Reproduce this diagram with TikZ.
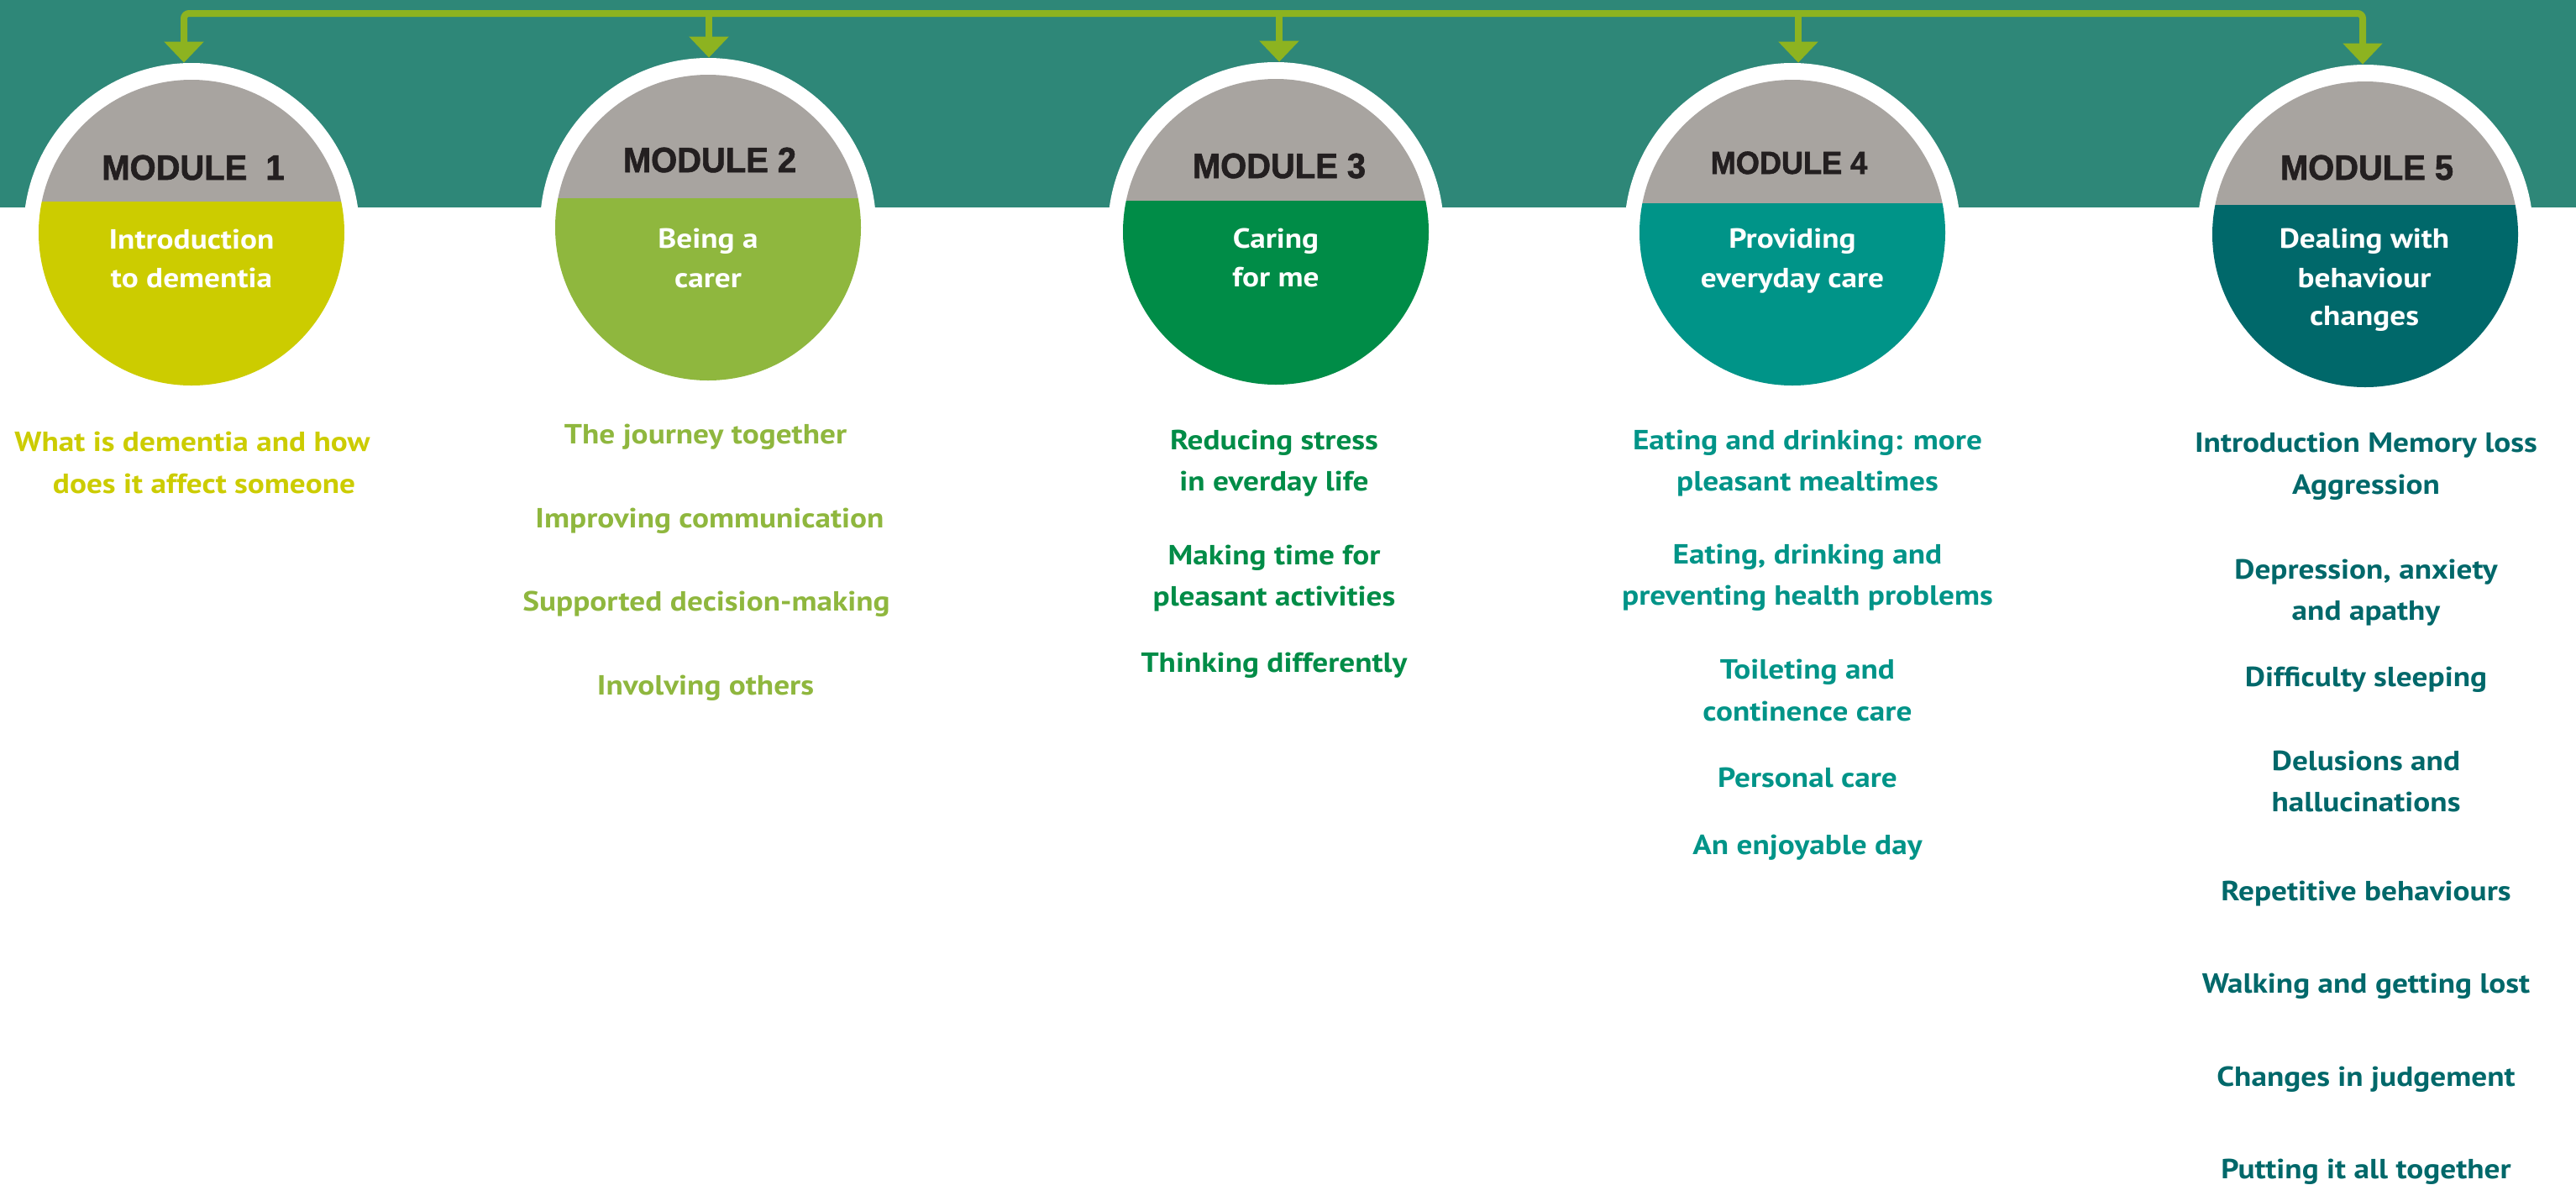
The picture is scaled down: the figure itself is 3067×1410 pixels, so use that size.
\documentclass[tikz,border=0pt]{standalone}
\usepackage{fontspec}
\setmainfont{PT Sans}
\newfontfamily\itemfont{PT Sans}[FakeStretch=1.13]
\newfontfamily\modfont{Liberation Sans Bold}[FakeBold=1.5, FakeStretch=0.95]
\usetikzlibrary{arrows.meta}
\definecolor{band}{HTML}{2E8778}
\definecolor{barg}{HTML}{8DB320}
\definecolor{capgray}{HTML}{A8A4A0}
\definecolor{mone}{HTML}{CCCC00}
\definecolor{mtwo}{HTML}{8FB73E}
\definecolor{mthree}{HTML}{008C47}
\definecolor{mfour}{HTML}{009488}
\definecolor{mfive}{HTML}{00686A}
\definecolor{modtext}{HTML}{231F20}
\tikzset{
  ring/.style={circle, fill=white, minimum size=200pt, inner sep=0pt},
  bar/.style={draw=barg, line width=4pt},
  tip/.style={-{Triangle[width=23pt,length=12.5pt]}},
  modlabel/.style={anchor=base, inner sep=0pt, text=modtext, font=\modfont\fontsize{21pt}{24pt}\selectfont},
  sub/.style={anchor=base, inner sep=0pt, text=white, font=\itemfont\bfseries\fontsize{16.5pt}{20pt}\selectfont},
  item/.style={anchor=base, inner sep=0pt, font=\itemfont\bfseries\fontsize{16.5pt}{20pt}\selectfont},
}
\begin{document}
\begin{tikzpicture}[x=0.5pt,y=-0.5pt]
\useasboundingbox (0,0) rectangle (3067,1410);
\fill[white] (0,0) rectangle (3067,1410);
\fill[band] (0,0) rectangle (3067,247);

% module circles
\foreach \i/\cx/\cy/\sp/\col in {1/228/277/240/mone, 2/843/271/236/mtwo, 3/1519/276/239/mthree, 4/2134/277/242/mfour, 5/2816/279/244/mfive}{
  \node[ring] (m\i) at (\cx,\cy-2) {};
  \begin{scope}
    \clip (\cx,\cy) circle[radius=91pt];
    \fill[capgray] (\cx-200,\cy-200) rectangle (\cx+200,\sp);
    \fill[\col] (\cx-200,\sp) rectangle (\cx+200,\cy+200);
  \end{scope}
}

% connectors
\coordinate (j1) at (219,16);
\coordinate (j2) at (844,16);
\coordinate (j3) at (1523,16);
\coordinate (j4) at (2141,16);
\coordinate (j5) at (2813,16);
\draw[bar, rounded corners=3pt, {Triangle[width=23pt,length=12.5pt]}-{Triangle[width=23pt,length=12.5pt]}]
  (j1 |- m1.north) -- (j1) -- (j5) -- (j5 |- m5.north);
\draw[bar, tip] (j2) -- (j2 |- m2.north);
\draw[bar, tip] (j3) -- (j3 |- m3.north);
\draw[bar, tip] (j4) -- (j4 |- m4.north);

% module labels
\node[modlabel] (l1) at (230,214) {MODULE\ \ 1};
\node[modlabel] (l2) at (845,205) {MODULE 2};
\node[modlabel] (l3) at (1523,212) {MODULE 3};
\node[modlabel, font=\modfont\fontsize{19pt}{22pt}\selectfont] (l4) at (2130,207) {MODULE 4};
\node[modlabel] (l5) at (2818,214) {MODULE 5};

% circle subtitles
\node[sub] (s1a) at (228,296) {Introduction};
\node[sub] (s1b) at (228,342) {to dementia};
\node[sub] (s2a) at (843,295) {Being a};
\node[sub] (s2b) at (843,342) {carer};
\node[sub] (s3a) at (1519,295) {Caring};
\node[sub] (s3b) at (1519,341) {for me};
\node[sub] (s4a) at (2134,295) {Providing};
\node[sub] (s4b) at (2134,342) {everyday care};
\node[sub] (s5a) at (2815,295) {Dealing with};
\node[sub] (s5b) at (2815,342) {behaviour};
\node[sub] (s5c) at (2815,387) {changes};

% module 1 topics
\node[item, text=mone] (a1) at (229,537) {What is dementia and how};
\node[item, text=mone] (a2) at (243,587) {does it affect someone};

% module 2 topics
\node[item, text=mtwo] (b1) at (840,528) {The journey together};
\node[item, text=mtwo] (b2) at (845,628) {Improving communication};
\node[item, text=mtwo] (b3) at (841,727) {Supported decision-making};
\node[item, text=mtwo] (b4) at (840,827) {Involving others};

% module 3 topics
\node[item, text=mthree] (c1) at (1517,535) {Reducing stress};
\node[item, text=mthree] (c2) at (1517,584) {in everday life};
\node[item, text=mthree] (c3) at (1517,672) {Making time for};
\node[item, text=mthree] (c4) at (1517,721) {pleasant activities};
\node[item, text=mthree] (c5) at (1517,800) {Thinking differently};

% module 4 topics
\node[item, text=mfour] (d1) at (2152,535) {Eating and drinking: more};
\node[item, text=mfour] (d2) at (2152,584) {pleasant mealtimes};
\node[item, text=mfour] (d3) at (2152,671) {Eating, drinking and};
\node[item, text=mfour] (d4) at (2152,720) {preventing health problems};
\node[item, text=mfour] (d5) at (2152,808) {Toileting and};
\node[item, text=mfour] (d6) at (2152,858) {continence care};
\node[item, text=mfour] (d7) at (2152,937) {Personal care};
\node[item, text=mfour] (d8) at (2152,1017) {An enjoyable day};

% module 5 topics
\node[item, text=mfive] (e1) at (2817,538) {Introduction Memory loss};
\node[item, text=mfive] (e2) at (2817,588) {Aggression};
\node[item, text=mfive] (e3) at (2817,689) {Depression, anxiety};
\node[item, text=mfive] (e4) at (2817,738) {and apathy};
\node[item, text=mfive] (e5) at (2817,817) {Difficulty sleeping};
\node[item, text=mfive] (e6) at (2817,917) {Delusions and};
\node[item, text=mfive] (e7) at (2817,966) {hallucinations};
\node[item, text=mfive] (e8) at (2817,1072) {Repetitive behaviours};
\node[item, text=mfive] (e9) at (2817,1182) {Walking and getting lost};
\node[item, text=mfive] (e10) at (2817,1293) {Changes in judgement};
\node[item, text=mfive] (e11) at (2817,1403) {Putting it all together};
\end{tikzpicture}
\end{document}
